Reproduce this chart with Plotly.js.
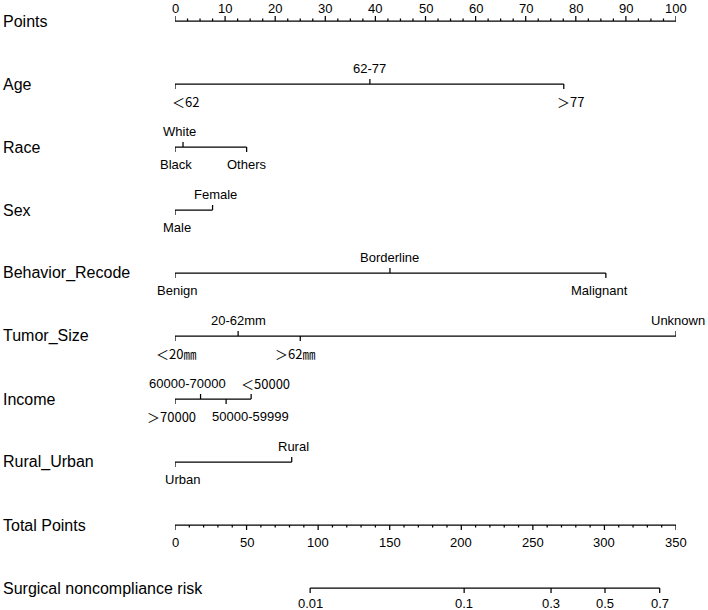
<!DOCTYPE html>
<html>
<head>
<meta charset="utf-8">
<script src="https://cdn.plot.ly/plotly-3.0.1.min.js"></script>
<style>html,body{margin:0;padding:0;background:#fff;}#chart{width:708px;height:610px;}</style>
</head>
<body>
<div id="chart"></div>
<script>
// ---------- DATA ----------
const rowNames = ["Points", "Age", "Race", "Sex", "Behavior_Recode", "Tumor_Size",
                  "Income", "Rural_Urban", "Total Points", "Surgical noncompliance risk"];

const pointsMajor = [0, 10, 20, 30, 40, 50, 60, 70, 80, 90, 100];
const pointsMinor = [2.5, 5, 7.5, 12.5, 15, 17.5, 22.5, 25, 27.5, 32.5, 35, 37.5, 42.5, 45, 47.5,
                     52.5, 55, 57.5, 62.5, 65, 67.5, 72.5, 75, 77.5, 82.5, 85, 87.5, 92.5, 95, 97.5];

const ageLabels = ["＜62", "62-77", "＞77"];
const agePoints = [0, 38.9, 77.6];

const raceLabels = ["Black", "White", "Others"];
const racePoints = [0, 1.6, 14.3];

const sexLabels = ["Male", "Female"];
const sexPoints = [0, 7.5];

const behaviorLabels = ["Benign", "Borderline", "Malignant"];
const behaviorPoints = [0, 42.9, 86.0];

const tumorLabels = ["＜20㎜", "20-62mm", "＞62㎜", "Unknown"];
const tumorPoints = [0, 12.6, 25.0, 100];

const incomeLabels = ["＞70000", "60000-70000", "50000-59999", "＜50000"];
const incomePoints = [0, 5.1, 10.2, 15.2];

const ruralLabels = ["Urban", "Rural"];
const ruralPoints = [0, 23.3];

const totalMajor = [0, 50, 100, 150, 200, 250, 300, 350];
const totalMinor = [10, 20, 30, 40, 60, 70, 80, 90, 110, 120, 130, 140, 160, 170, 180, 190,
                    210, 220, 230, 240, 260, 270, 280, 290, 310, 320, 330, 340];

const riskLabels = ["0.01", "0.1", "0.3", "0.5", "0.7"];
const riskTotalPoints = [94.4, 202.0, 262.7, 300.4, 338.6];

// ---------- LAYOUT / STYLE (label sides and small pixel nudges) ----------
const ROW0 = 21, ROW_GAP = 63;
const rowY = i => ROW0 + ROW_GAP * i;
const TICK = 5, MINOR = 2.5;
const LAB_UP = -16, LAB_DOWN = 17;
const LINE = {color: "#000", width: 1.25};
const FONT = "Liberation Sans, Arial, sans-serif";
const CJK_FONT = "Noto Sans CJK SC, Liberation Sans, sans-serif";

const rowStyle = [
  {side: ["below", "above", "below"], nudge: [10, 0, 7]},              // Age
  {side: ["below", "above", "below"], nudge: [1, -4, 0]},              // Race
  {side: ["below", "above"], nudge: [2, 3]},                           // Sex
  {side: ["below", "above", "below"], nudge: [2, 0, -6]},              // Behavior
  {side: ["below", "above", "below", "above"], nudge: [1, 0, -5, 2]},  // Tumor
  {side: ["below", "above", "below", "above"], nudge: [-4, -13, 24, 14]}, // Income
  {side: ["below", "above"], nudge: [7, 2]}                            // Rural
];

const traces = [];
const annotations = [];

function lineTrace(xs, ys, axis) {
  traces.push({type: "scatter", mode: "lines", x: xs, y: ys, xaxis: axis, yaxis: "y",
               line: LINE, hoverinfo: "skip", showlegend: false, cliponaxis: false});
}
function ticksTrace(vals, y, len, axis) {
  const xs = [], ys = [];
  vals.forEach(v => { xs.push(v, v, null); ys.push(y, y + len, null); });
  lineTrace(xs, ys, axis);
}
function label(x, y, text, axis, xshift) {
  const cjk = /[＜＞㎜]/.test(text);
  annotations.push({xref: axis, yref: "y", x: x, y: y, text: text, showarrow: false,
                    xanchor: "center", yanchor: "middle", xshift: xshift || 0,
                    font: {family: cjk ? CJK_FONT : FONT, size: 13, color: "#000"}});
}

// Points axis (row 0)
{
  const y = rowY(0);
  lineTrace([pointsMajor[0], pointsMajor[pointsMajor.length - 1]], [y, y], "x");
  ticksTrace(pointsMajor, y, -TICK, "x");
  ticksTrace(pointsMinor, y, -MINOR, "x");
  pointsMajor.forEach(v => label(v, y - 13, String(v), "x", 0));
}

// Variable rows
const variables = [
  [ageLabels, agePoints], [raceLabels, racePoints], [sexLabels, sexPoints],
  [behaviorLabels, behaviorPoints], [tumorLabels, tumorPoints],
  [incomeLabels, incomePoints], [ruralLabels, ruralPoints]
];
variables.forEach(([labs, pts], k) => {
  const y = rowY(k + 1);
  const st = rowStyle[k];
  lineTrace([Math.min(...pts), Math.max(...pts)], [y, y], "x");
  const xs = [], ys = [];
  pts.forEach((p, j) => { xs.push(p, p, null); ys.push(y, y + (st.side[j] === "above" ? -TICK : TICK), null); });
  lineTrace(xs, ys, "x");
  pts.forEach((p, j) => label(p, y + (st.side[j] === "above" ? LAB_UP : LAB_DOWN), labs[j], "x", st.nudge[j]));
});

// Total points (row 8)
{
  const y = rowY(8);
  lineTrace([totalMajor[0], totalMajor[totalMajor.length - 1]], [y, y], "x2");
  ticksTrace(totalMajor, y, TICK, "x2");
  ticksTrace(totalMinor, y, MINOR, "x2");
  totalMajor.forEach(v => label(v, y + LAB_DOWN, String(v), "x2", 0));
}

// Risk (row 9)
{
  const y = rowY(9);
  lineTrace([riskTotalPoints[0], riskTotalPoints[riskTotalPoints.length - 1]], [y, y], "x2");
  ticksTrace(riskTotalPoints, y, TICK, "x2");
  riskTotalPoints.forEach((v, j) => label(v, y + 15, riskLabels[j], "x2", 0));
}

rowNames.forEach((n, i) => annotations.push({
  xref: "paper", yref: "y", x: -174 / 501, y: rowY(i), xanchor: "left", yanchor: "middle",
  text: n, showarrow: false, font: {family: FONT, size: 16, color: "#000"}
}));

const layout = {
  width: 708, height: 610,
  margin: {l: 175, r: 32, t: 0, b: 0, pad: 0},
  paper_bgcolor: "#fff", plot_bgcolor: "#fff",
  showlegend: false,
  xaxis: {range: [0, 100], visible: false, fixedrange: true},
  xaxis2: {range: [0, 350], visible: false, overlaying: "x", fixedrange: true},
  yaxis: {range: [610, 0], visible: false, fixedrange: true},
  annotations: annotations
};

Plotly.newPlot("chart", traces, layout, {displayModeBar: false, staticPlot: true});
</script>
</body>
</html>
